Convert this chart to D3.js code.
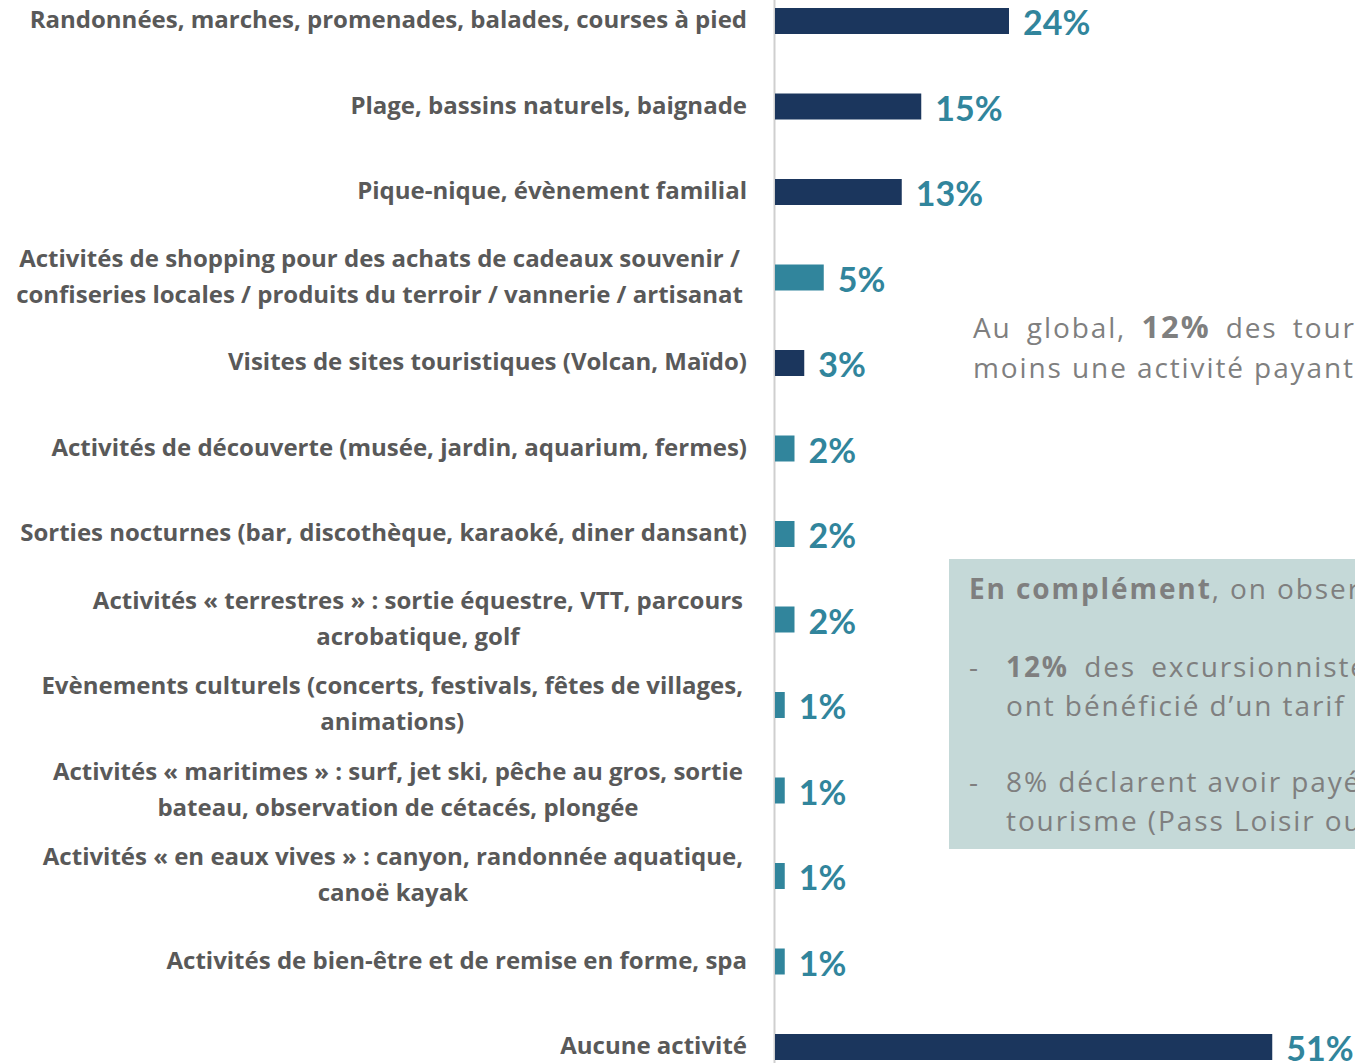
<!DOCTYPE html>
<html>
<head>
<meta charset="utf-8">
<script src="https://cdn.jsdelivr.net/npm/d3@7"></script>
<style>
  body { margin: 0; background: #fff; }
</style>
</head>
<body>
<svg id="chart"></svg>
<script>
// Data
var categories = [
  "Randonnées, marches, promenades, balades, courses à pied",
  "Plage, bassins naturels, baignade",
  "Pique-nique, évènement familial",
  "Activités de shopping pour des achats de cadeaux souvenir /\nconfiseries locales / produits du terroir / vannerie / artisanat",
  "Visites de sites touristiques (Volcan, Maïdo)",
  "Activités de découverte (musée, jardin, aquarium, fermes)",
  "Sorties nocturnes (bar, discothèque, karaoké, diner dansant)",
  "Activités « terrestres » : sortie équestre, VTT, parcours\nacrobatique, golf",
  "Evènements culturels (concerts, festivals, fêtes de villages,\nanimations)",
  "Activités « maritimes » : surf, jet ski, pêche au gros, sortie\nbateau, observation de cétacés, plongée",
  "Activités « en eaux vives » : canyon, randonnée aquatique,\ncanoë kayak",
  "Activités de bien-être et de remise en forme, spa",
  "Aucune activité"
];
var values = [24, 15, 13, 5, 3, 2, 2, 2, 1, 1, 1, 1, 51];
// paid activities are drawn in teal
var payant = [false, false, false, true, false, true, true, true, true, true, true, true, false];

var noteGlobal = ["Au global, ", "12%", " des touristes ont pratiqué au", "moins une activité payante lors de leur excursion"];
var noteBox = ["En complément", ", on observe que :",
               "12%", " des excursionnistes interrogés", "ont bénéficié d’un tarif réduit",
               "8% déclarent avoir payé avec un chèque", "tourisme (Pass Loisir ou autre)"];

var W = 1355, H = 1063;
var navy = "#1b365d", teal = "#31859c", grey = "#595959", noteGrey = "#7f7f7f";

var svg = d3.select("#chart").attr("width", W).attr("height", H);

var data = categories.map(function(c, i) {
  return {label: c, value: values[i], payant: payant[i]};
});

//Scales
var x = d3.scaleLinear().domain([0, 60]).range([775, 1360]);
var y = d3.scaleBand()
    .domain(categories)
    .range([-21.75, 1089.75])
    .paddingInner(0.696)
    .paddingOuter(0.348);

//Side box (behind the text)
svg.append("rect")
    .attr("x", 949).attr("y", 559)
    .attr("width", 420).attr("height", 290)
    .attr("fill", "#c5d9d8");

//Axis line
var axis = svg.append("g")
    .attr("transform", "translate(774,0)")
    .call(d3.axisLeft(y).tickSize(0).tickSizeOuter(0).tickFormat(""));
axis.select(".domain").attr("stroke", "#cfcfcf").attr("stroke-width", 2);

//Bars
svg.selectAll("rect.bar")
    .data(data)
    .enter()
    .append("rect")
    .attr("class", "bar")
    .attr("x", x(0))
    .attr("y", function(d) { return y(d.label); })
    .attr("width", function(d) { return x(d.value) - x(0); })
    .attr("height", y.bandwidth())
    .attr("fill", function(d) { return d.payant ? teal : navy; });

//Value labels
svg.selectAll("text.val")
    .data(data)
    .enter()
    .append("text")
    .attr("class", "val")
    .attr("x", function(d) { return x(d.value) + 14; })
    .attr("y", function(d) { return y(d.label) + y.bandwidth() / 2 + 14; })
    .style("font-family", "Lato, sans-serif")
    .style("font-weight", "bold")
    .style("font-size", "34px")
    .attr("fill", teal)
    .text(function(d) { return d.value + "%"; });

//Category labels
var R = 747, lineH = 36;
var cat = svg.selectAll("text.cat")
    .data(data)
    .enter()
    .append("text")
    .attr("class", "cat")
    .style("font-family", "'Open Sans', sans-serif")
    .style("font-weight", "bold")
    .style("font-size", "24px")
    .attr("fill", grey)
    .attr("text-anchor", "end");

cat.each(function(d) {
  var t = d3.select(this);
  var lines = d.label.split("\n");
  var mid = y(d.label) + y.bandwidth() / 2;
  lines.forEach(function(l, i) {
    t.append("tspan")
      .attr("x", R)
      .attr("y", mid + (i - (lines.length - 1) / 2) * lineH + 7)
      .text(l);
  });
  if (lines.length > 1) {
    var maxW = 0;
    t.selectAll("tspan").each(function() { maxW = Math.max(maxW, this.getComputedTextLength()); });
    t.attr("text-anchor", "middle");
    t.selectAll("tspan").attr("x", R - 4 - maxW / 2);
  }
});

//Annotations
var noteFont = "'Open Sans', sans-serif";
var note = function(xx, yy) {
  return svg.append("text")
    .attr("x", xx).attr("y", yy)
    .style("font-family", noteFont).style("font-size", "28px")
    .attr("letter-spacing", 1.9)
    .attr("fill", noteGrey);
};
var g1 = note(973, 338).attr("word-spacing", 6);
g1.append("tspan").text(noteGlobal[0]);
g1.append("tspan").style("font-weight", "bold").style("font-size", "31px").text(noteGlobal[1]);
g1.append("tspan").text(noteGlobal[2]);
note(973, 378).text(noteGlobal[3]);

var b1 = note(969, 599);
b1.append("tspan").style("font-weight", "bold").text(noteBox[0]);
b1.append("tspan").text(noteBox[1]);

note(969, 677).text("-");
var b2 = note(1006, 677).attr("word-spacing", 6);
b2.append("tspan").style("font-weight", "bold").text(noteBox[2]);
b2.append("tspan").text(noteBox[3]);
note(1006, 716).text(noteBox[4]);

note(969, 792).text("-");
note(1006, 792).text(noteBox[5]);
note(1006, 831).text(noteBox[6]);
</script>
</body>
</html>
